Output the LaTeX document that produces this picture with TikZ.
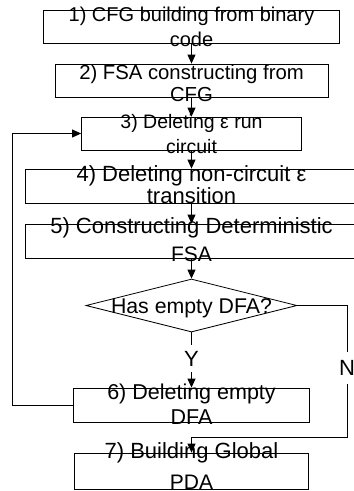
\documentclass[tikz,border=0pt]{standalone}
\usepackage{fontspec}
\setmainfont{Liberation Sans}
\usetikzlibrary{arrows.meta,shapes.geometric}
\newcommand{\fs}[1]{\fontsize{#1}{#1}\selectfont}
\tikzset{
  stepbox/.style={draw, line width=0.8pt, inner sep=0pt},
  steptext/.style={inner sep=0pt, anchor=base},
  decision/.style={draw, line width=0.8pt, shape=diamond, inner sep=0pt, minimum width=211pt, minimum height=53pt},
  flow/.style={draw, line width=0.8pt, -{Triangle[length=9pt,width=8pt]}},
  branch/.style={font=\fs{22}, fill=white, inner xsep=1pt},
}
\begin{document}
\begin{tikzpicture}[x=1pt,y=-1pt]
\clip (0,0) rectangle (354,491);
% boxes
\node[stepbox, minimum width=296pt, minimum height=33pt] (b1) at (191.5,26.5) {};
\node[stepbox, minimum width=273pt, minimum height=33pt] (b2) at (191.5,80.5) {};
\node[stepbox, minimum width=220pt, minimum height=33pt] (b3) at (191.5,133.5) {};
\node[stepbox, minimum width=332pt, minimum height=34pt] (b4) at (191.5,186) {};
\node[stepbox, minimum width=332pt, minimum height=34pt] (b5) at (191.5,241) {};
\node[decision] (d) at (191.5,305.5) {};
\node[stepbox, minimum width=236pt, minimum height=34pt] (b6) at (191.5,405) {};
\node[stepbox, minimum width=234pt, minimum height=36pt] (b7) at (191.5,471) {};
% texts (one node per printed line, placed on its baseline)
\node[steptext, font=\fs{20}] (t1a) at (191.5,21.7) {1) CFG building from binary};
\node[steptext, font=\fs{20}] (t1b) at (191.5,46.7) {code};
\node[steptext, font=\fs{20.3}] (t2a) at (191.5,79.5) {2) FSA constructing from};
\node[steptext, font=\fs{20.3}] (t2b) at (191.5,101) {CFG};
\node[steptext, font=\fs{19.5}] (t3a) at (191.5,128.3) {3) Deleting ε run};
\node[steptext, font=\fs{19.5}] (t3b) at (191.5,153) {circuit};
\node[steptext, font=\fs{22}] (t4a) at (191.5,181.7) {4) Deleting non-circuit ε};
\node[steptext, font=\fs{22}] (t4b) at (191.5,203.3) {transition};
\node[steptext, font=\fs{22}] (t5a) at (191.5,233.3) {5) Constructing Deterministic};
\node[steptext, font=\fs{21}] (t5b) at (191.5,261.7) {FSA};
\node[steptext, font=\fs{21.3}] (td) at (191.5,313.3) {Has empty DFA?};
\node[steptext, font=\fs{21.5}] (t6a) at (191.5,399.3) {6) Deleting empty};
\node[steptext, font=\fs{21.5}] (t6b) at (191.5,424) {DFA};
\node[steptext, font=\fs{22}] (t7a) at (191.5,458) {7) Building Global};
\node[steptext, font=\fs{21}] (t7b) at (191.5,489.5) {PDA};
% connectors
\draw[flow] (b1.south) -- (b2.north);
\draw[flow] (b2.south) -- (b3.north);
\draw[flow] (b3.south) -- (b4.north);
\draw[flow] (b4.south) -- (b5.north);
\draw[flow] (b5.south) -- (d.north);
\draw[flow] (d.south) -- node[branch, inner ysep=6pt, pos=0.48] (ly) {Y} (b6.north);
\coordinate (fb) at (12,405);
\draw[flow] (b6.west) -- (fb) |- (b3.west);
\coordinate (nc) at (347,437);
\draw[flow] (d.east) -| node[branch, inner ysep=8.5pt, pos=0.738] (ln) {N} (nc) -| (b7.north);
\end{tikzpicture}
\end{document}
